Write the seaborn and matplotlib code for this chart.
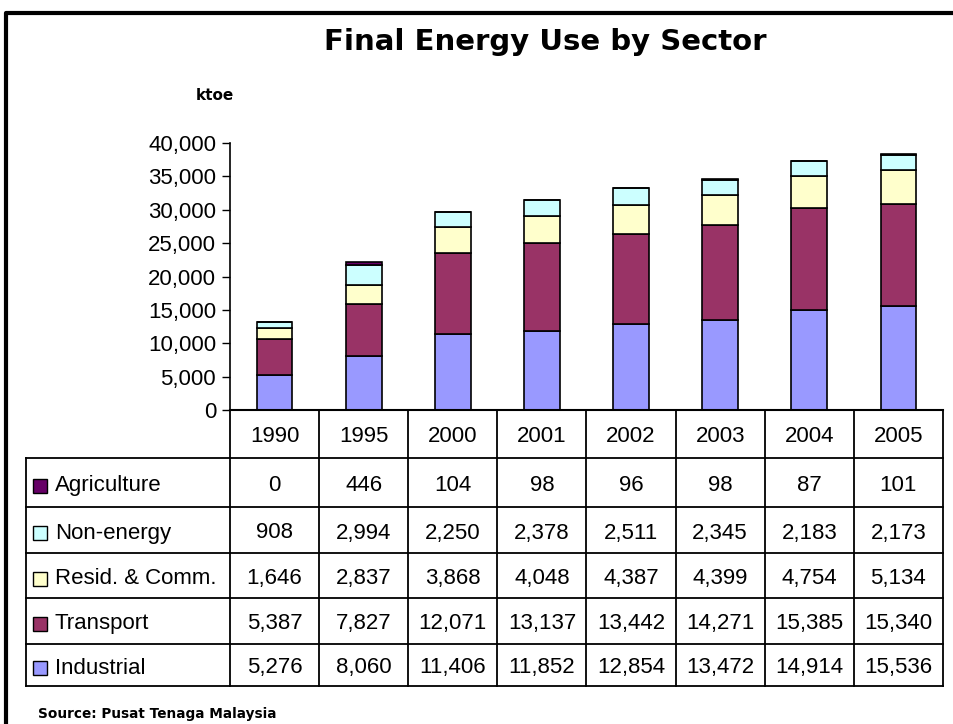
import numpy as np
import pandas as pd
import matplotlib
matplotlib.use("Agg")
import matplotlib.pyplot as plt
import matplotlib.transforms as mtransforms
from matplotlib.patches import Rectangle
from matplotlib.lines import Line2D
from matplotlib import font_manager
import seaborn as sns

# ---------------- data ----------------
years = ["1990", "1995", "2000", "2001", "2002", "2003", "2004", "2005"]
industrial = [5276, 8060, 11406, 11852, 12854, 13472, 14914, 15536]
transport = [5387, 7827, 12071, 13137, 13442, 14271, 15385, 15340]
resid_comm = [1646, 2837, 3868, 4048, 4387, 4399, 4754, 5134]
non_energy = [908, 2994, 2250, 2378, 2511, 2345, 2183, 2173]
agriculture = [0, 446, 104, 98, 96, 98, 87, 101]

sectors = ["Industrial", "Transport", "Resid. & Comm.", "Non-energy", "Agriculture"]
series = [industrial, transport, resid_comm, non_energy, agriculture]
colors = ["#9999FF", "#993366", "#FFFFCC", "#CCFFFF", "#660066"]

yticks = [0, 5000, 10000, 15000, 20000, 25000, 30000, 35000, 40000]

title = "Final Energy Use by Sector"
unit = "ktoe"
source = "Source: Pusat Tenaga Malaysia"

# ---------------- fonts ----------------
available = {f.name for f in font_manager.fontManager.ttflist}
narrow = "Liberation Sans Narrow" if "Liberation Sans Narrow" in available else "Liberation Sans"
num_font = [narrow, "DejaVu Sans"]
NUM_SIZE = 18 if narrow == "Liberation Sans Narrow" else 16

W, H = 954, 724
fig = plt.figure(figsize=(W / 100, H / 100), dpi=100)
fig.patch.set_facecolor("white")

def fy(py):
    return 1 - py / H

# main axes
ax = fig.add_axes([230 / W, fy(410), (943 - 230) / W, (410 - 143) / H])

df = pd.DataFrame({"year": years})
bottom = np.zeros(len(years))
for name, vals, col in zip(sectors, series, colors):
    sns.barplot(x=df["year"], y=np.array(vals, dtype=float), bottom=bottom,
                order=years, color=col, edgecolor="black", linewidth=1.2,
                width=0.4, errorbar=None, ax=ax, saturation=1)
    bottom = bottom + np.array(vals, dtype=float)

ax.set_xlim(-0.5, len(years) - 0.5)
ax.set_ylim(0, 40000)
ax.set_yticks(yticks)
ax.set_yticklabels([f"{v:,}" for v in yticks])
for lbl in ax.get_yticklabels():
    lbl.set_family(num_font)
    lbl.set_fontsize(NUM_SIZE)
ax.tick_params(axis="y", direction="out", length=6, width=1, color="black", pad=4)
ax.set_xticks([])
ax.set_xlabel("")
ax.set_ylabel("")
for s in ["top", "right"]:
    ax.spines[s].set_visible(False)
ax.spines["left"].set_linewidth(1.2)
ax.spines["bottom"].set_linewidth(1.5)
ax.set_facecolor("white")

# overlay axes in pixel coordinates for table/decoration
tax = fig.add_axes([0, 0, 1, 1], zorder=-1)
tax.set_xlim(0, W)
tax.set_ylim(H, 0)
tax.axis("off")
tax.patch.set_alpha(0)

# frame
tax.add_line(Line2D([6, 6, W], [H, 13, 13], color="black", linewidth=3))

# title/labels
fig.text(545 / W, fy(42), title, ha="center", va="center", fontsize=21,
         fontweight="bold", family="DejaVu Sans")
fig.text(215 / W, fy(96), unit, ha="center", va="center", fontsize=11,
         fontweight="bold", family="DejaVu Sans")
fig.text(38 / W, fy(714), source, ha="left", va="center", fontsize=9.8,
         fontweight="bold", family="DejaVu Sans")

# table
blend = mtransforms.blended_transform_factory(ax.transData, tax.transData)
row_edges = [458, 507, 553, 598, 644, 686]
head_top, head_bot = 410, 458
lw = 1.3
n = len(years)
for i in range(n + 1):
    x = i - 0.5
    tax.add_line(Line2D([x, x], [head_top, row_edges[-1]], transform=blend,
                        color="black", linewidth=lw, clip_on=False))
for yv in row_edges:
    tax.add_line(Line2D([26, 943], [yv, yv], color="black", linewidth=lw))
tax.add_line(Line2D([26, 26], [row_edges[0], row_edges[-1]], color="black", linewidth=lw))

for i, yr in enumerate(years):
    tax.text(i, (head_top + head_bot) / 2 + 2, yr, transform=blend, ha="center",
             va="center", fontsize=NUM_SIZE, family=num_font, clip_on=False)

rows_order = list(range(len(sectors)))[::-1]  # Agriculture first
for r, si in enumerate(rows_order):
    y0, y1 = row_edges[r], row_edges[r + 1]
    yc = (y0 + y1) / 2 + 3
    tax.add_patch(Rectangle((33, yc - 7), 14, 14, facecolor=colors[si],
                            edgecolor="black", linewidth=1))
    tax.text(55, yc, sectors[si], ha="left", va="center", fontsize=NUM_SIZE,
             family=num_font)
    for i, v in enumerate(series[si]):
        tax.text(i, yc, f"{v:,}", transform=blend, ha="center", va="center",
                 fontsize=NUM_SIZE, family=num_font, clip_on=False)

fig.savefig("out.png", dpi=100, facecolor="white")
